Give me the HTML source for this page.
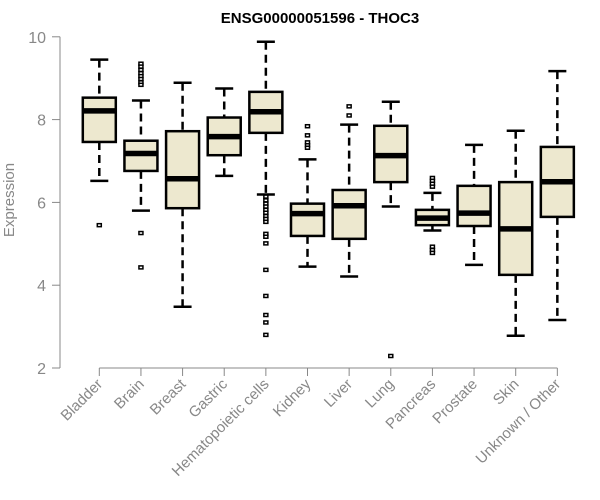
<!DOCTYPE html>
<html><head><meta charset="utf-8"><style>
html,body{margin:0;padding:0;background:#fff;}
svg{display:block;font-family:"Liberation Sans",Arial,sans-serif;}
</style></head><body>
<svg id="chart" width="600" height="500">
<text x="320" y="23" text-anchor="middle" font-weight="bold" font-size="15">ENSG00000051596 - THOC3</text>
<text transform="translate(14,200) rotate(-90)" text-anchor="middle" font-size="15" fill="#888">Expression</text>
<g id="yaxis"></g>
<g id="xaxis"></g>
<g id="boxes"></g>
</svg>
<script>
const categories = ["Bladder","Brain","Breast","Gastric","Hematopoietic cells","Kidney","Liver","Lung","Pancreas","Prostate","Skin","Unknown / Other"];
const whiskerLow = [6.52,5.80,3.48,6.64,6.19,4.45,4.21,5.90,5.32,4.49,2.78,3.16];
const q1 = [7.46,6.76,5.86,7.14,7.68,5.19,5.12,6.49,5.45,5.43,4.25,5.65];
const median = [8.21,7.18,6.57,7.59,8.19,5.73,5.92,7.13,5.62,5.74,5.36,6.50];
const q3 = [8.53,7.49,7.72,8.05,8.67,5.97,6.30,7.85,5.82,6.40,6.49,7.34];
const whiskerHigh = [9.45,8.46,8.89,8.75,9.88,7.04,7.88,8.43,6.23,7.39,7.73,9.17];
const outliers = [
  [5.45],
  [9.35,9.28,9.2,9.12,9.05,8.98,8.9,8.84,5.26,4.43],
  [],
  [],
  [6.14,6.05,5.97,5.9,5.82,5.75,5.67,5.6,5.53,5.24,5.17,5.01,4.37,3.74,3.28,3.10,2.80],
  [7.84,7.62,7.45,7.38,7.32],
  [8.32,8.10],
  [2.29],
  [6.59,6.52,6.45,6.38,4.93,4.85,4.78],
  [],
  [],
  []
];
const yTicks = [2,4,6,8,10];

const NS="http://www.w3.org/2000/svg";
function y(v){return 368-(v-2)*41.4;}
function x(i){return 99.3+i*41.64;}
function mk(tag,attrs,parent){const e=document.createElementNS(NS,tag);for(const k in attrs)e.setAttribute(k,attrs[k]);parent.appendChild(e);return e;}
const ya=document.getElementById('yaxis'),xa=document.getElementById('xaxis'),bx=document.getElementById('boxes');
const axc="#888";
let l=mk('line',{x1:60,x2:60,y1:y(10),y2:y(2),stroke:axc,'stroke-width':1},ya);


yTicks.forEach(t=>{
  let tk=mk('line',{x1:52,x2:60,y1:y(t),y2:y(t),stroke:axc},ya);
  
  
  let tx=mk('text',{x:46,y:y(t)+6,'text-anchor':'end','font-size':16,fill:axc},ya);
  tx.textContent=t;
  
  
});
l=mk('line',{x1:x(0),x2:x(categories.length-1),y1:368,y2:368,stroke:axc},xa);


categories.forEach((c,i)=>{
  let tk=mk('line',{x1:x(i),x2:x(i),y1:368,y2:376,stroke:axc},xa);
  
  
  let tx=mk('text',{transform:`translate(${x(i)+4},385) rotate(-45)`,'text-anchor':'end','font-size':15,fill:axc},xa);
  tx.textContent=c;
  
  
});
categories.forEach((c,i)=>{
  const cx=x(i),g=mk('g',{},bx);
  
  
  mk('line',{x1:cx,x2:cx,y1:y(whiskerHigh[i]),y2:y(q3[i]),stroke:'#000','stroke-width':2.5,'stroke-dasharray':'8,5'},g);
  mk('line',{x1:cx,x2:cx,y1:y(q1[i]),y2:y(whiskerLow[i]),stroke:'#000','stroke-width':2.5,'stroke-dasharray':'8,5'},g);
  mk('line',{x1:cx-9,x2:cx+9,y1:y(whiskerHigh[i]),y2:y(whiskerHigh[i]),stroke:'#000','stroke-width':2.5},g);
  mk('line',{x1:cx-9,x2:cx+9,y1:y(whiskerLow[i]),y2:y(whiskerLow[i]),stroke:'#000','stroke-width':2.5},g);
  mk('rect',{x:cx-16.5,y:y(q3[i]),width:33,height:y(q1[i])-y(q3[i]),fill:'#EDE8CF',stroke:'#000','stroke-width':2.5},g);
  mk('line',{x1:cx-16.5,x2:cx+16.5,y1:y(median[i]),y2:y(median[i]),stroke:'#000','stroke-width':5.5},g);
  outliers[i].forEach(o=>{
    let p=mk('rect',{x:cx-2,y:y(o)-1.5,width:4,height:3,fill:'#fff',stroke:'#000','stroke-width':1.5},g);
    
    
  });
});
</script>
</body></html>
